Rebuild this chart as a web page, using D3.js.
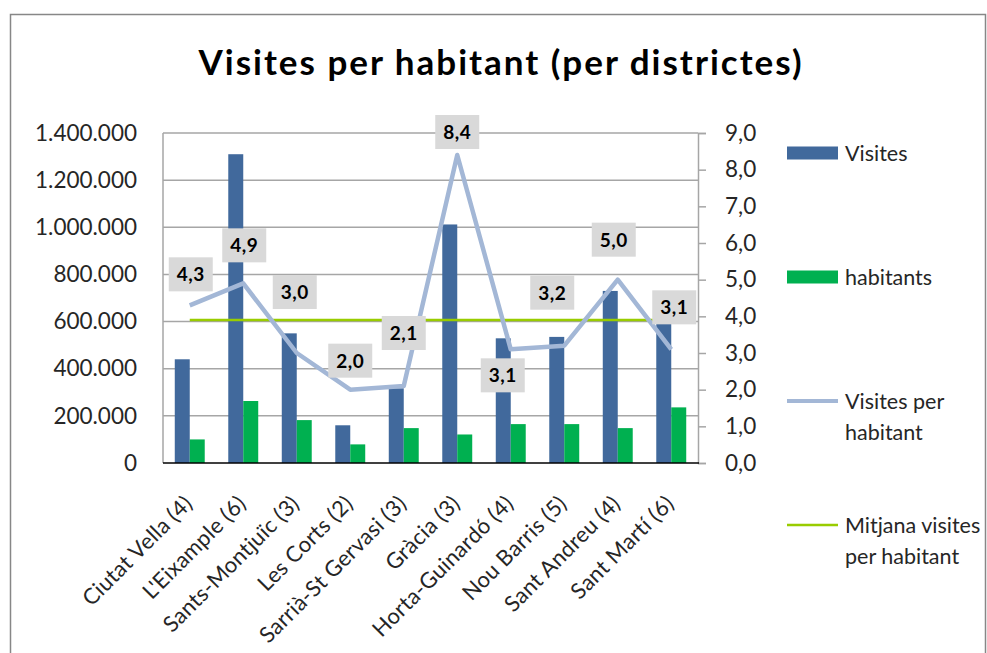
<!DOCTYPE html>
<html>
<head>
<meta charset="utf-8">
<script src="https://cdn.jsdelivr.net/npm/d3@7"></script>
<style>
  body { margin: 0; background: #fff; }
  svg { display: block; font-family: Lato, "Liberation Sans", sans-serif; }
</style>
</head>
<body>
<svg id="chart" width="987" height="653"></svg>
<script>
// dades llegides del gràfic original
const districtes = ["Ciutat Vella (4)", "L'Eixample (6)", "Sants-Montjuïc (3)", "Les Corts (2)",
  "Sarrià-St Gervasi (3)", "Gràcia (3)", "Horta-Guinardó (4)", "Nou Barris (5)", "Sant Andreu (4)", "Sant Martí (6)"];
const visites = [440000, 1310000, 550000, 160000, 317000, 1012000, 529000, 535000, 730000, 590000];
const habitants = [100000, 263000, 182000, 79000, 148000, 121000, 165000, 165000, 148000, 236000];
const visitesPerHabitant = [4.3, 4.9, 3.0, 2.0, 2.1, 8.4, 3.1, 3.2, 5.0, 3.1];
const mitjana = 3.9;
const ticksEsq = [0, 200000, 400000, 600000, 800000, 1000000, 1200000, 1400000];
const ticksDre = [0, 1, 2, 3, 4, 5, 6, 7, 8, 9];

// desplaçament manual de les etiquetes (px, com a l'Excel)
const nudge = [[1, -31], [1, -38], [-2, -61], [0, -29], [0, -53], [0, -23], [-8, 26], [-12, -53], [-4, -40], [3, -42]];

const colors = { visites: '#41699c', habitants: '#00b050', ratio: '#a3b7d6', mitjana: '#99cc00' };

const loc = d3.formatLocale({ decimal: ',', thousands: '.', grouping: [3], currency: ['', '€'] });
const fmtEsq = loc.format(',d');
const fmtDre = loc.format('.1f');

const svg = d3.select('#chart');
const plot = { left: 163, right: 698, top: 133, bottom: 463 };

// vora del gràfic
svg.append('rect').attr('x', 10.5).attr('y', 14.5).attr('width', 975).attr('height', 700)
  .attr('fill', 'none').attr('stroke', '#878787').attr('stroke-width', 1.5);

svg.append('text').attr('x', 501).attr('y', 75).attr('text-anchor', 'middle')
  .attr('font-size', 35).attr('font-weight', 'bold').attr('letter-spacing', 2).attr('fill', '#000')
  .text('Visites per habitant (per districtes)');

const x = d3.scaleBand().domain(districtes).range([plot.left, plot.right]);
const yL = d3.scaleLinear().domain([0, 1400000]).range([plot.bottom, plot.top]);
const yR = d3.scaleLinear().domain([0, 9]).range([plot.bottom, plot.top]);
const cx = (i) => x(districtes[i]) + x.bandwidth() / 2;
const barW = x.bandwidth() * 0.28;

// graella
svg.append('g').selectAll('line').data(ticksEsq.slice(1)).join('line')
  .attr('x1', plot.left).attr('x2', plot.right)
  .attr('y1', (d) => yL(d)).attr('y2', (d) => yL(d))
  .attr('stroke', '#a6a6a6').attr('stroke-width', 1.5);
svg.append('line').attr('x1', plot.left).attr('x2', plot.left).attr('y1', plot.top).attr('y2', plot.bottom)
  .attr('stroke', '#a6a6a6').attr('stroke-width', 1.5);

// eix esquerre
const axL = svg.append('g').attr('transform', `translate(${plot.left - 26},0)`)
  .call(d3.axisLeft(yL).tickValues(ticksEsq).tickFormat(fmtEsq).tickSize(0).tickPadding(0));
axL.select('.domain').remove();
axL.selectAll('text').attr('font-size', 22.5).attr('fill', '#262626').attr('font-family', 'Lato, sans-serif');

// eix dret
const axR = svg.append('g').attr('transform', `translate(${plot.right},0)`)
  .call(d3.axisRight(yR).tickValues(ticksDre).tickFormat(fmtDre).tickSize(8).tickPadding(19));
axR.select('.domain').attr('stroke', '#a6a6a6').attr('stroke-width', 1.5);
axR.selectAll('line').attr('stroke', '#a6a6a6').attr('stroke-width', 1.5);
axR.selectAll('text').attr('font-size', 22.5).attr('fill', '#262626').attr('font-family', 'Lato, sans-serif');

// barres
svg.append('g').selectAll('rect').data(visites).join('rect')
  .attr('x', (d, i) => cx(i) - barW).attr('width', barW)
  .attr('y', (d) => yL(d)).attr('height', (d) => plot.bottom - yL(d))
  .attr('fill', colors.visites);
svg.append('g').selectAll('rect').data(habitants).join('rect')
  .attr('x', (d, i) => cx(i)).attr('width', barW)
  .attr('y', (d) => yL(d)).attr('height', (d) => plot.bottom - yL(d))
  .attr('fill', colors.habitants);

// eix inferior
svg.append('line').attr('x1', plot.left).attr('x2', plot.right + 1).attr('y1', plot.bottom).attr('y2', plot.bottom)
  .attr('stroke', '#000').attr('stroke-width', 1.5);

// mitjana
svg.append('line').attr('x1', cx(0)).attr('x2', cx(districtes.length - 1))
  .attr('y1', yR(mitjana)).attr('y2', yR(mitjana))
  .attr('stroke', colors.mitjana).attr('stroke-width', 2.5);

// línia visites per habitant
const line = d3.line().x((d, i) => cx(i)).y((d) => yR(d));
svg.append('path').datum(visitesPerHabitant).attr('d', line)
  .attr('fill', 'none').attr('stroke', colors.ratio).attr('stroke-width', 4.5)
  .attr('stroke-linejoin', 'round');

// etiquetes de dades
const lab = svg.append('g').selectAll('g').data(visitesPerHabitant).join('g')
  .attr('transform', (d, i) => `translate(${cx(i) + nudge[i][0]},${yR(d) + nudge[i][1]})`);
lab.append('rect').attr('x', -22).attr('y', -17).attr('width', 44).attr('height', 34).attr('fill', '#d9d9d9');
lab.append('text').attr('text-anchor', 'middle').attr('dy', '0.36em')
  .attr('font-size', 19).attr('font-weight', 'bold').attr('letter-spacing', 0.5).attr('fill', '#000')
  .text((d) => fmtDre(d));

// etiquetes categories
svg.append('g').selectAll('text').data(districtes).join('text')
  .attr('transform', (d, i) => `translate(${cx(i) + 4},${plot.bottom + 42}) rotate(-45)`)
  .attr('text-anchor', 'end').attr('font-size', 22).attr('letter-spacing', 0.3).attr('fill', '#262626')
  .text((d) => d);

// llegenda
const leg = svg.append('g').attr('transform', 'translate(787,0)');
const items = [
  { nom: ['Visites'], y: 153, tipus: 'rect', color: colors.visites },
  { nom: ['habitants'], y: 277, tipus: 'rect', color: colors.habitants },
  { nom: ['Visites per', 'habitant'], y: 401, tipus: 'line', color: colors.ratio, w: 4 },
  { nom: ['Mitjana visites', 'per habitant'], y: 525, tipus: 'line', color: colors.mitjana, w: 2.5 },
];
items.forEach((it) => {
  if (it.tipus === 'rect') {
    leg.append('rect').attr('x', 0).attr('y', it.y - 6.5).attr('width', 51).attr('height', 13).attr('fill', it.color);
  } else {
    leg.append('line').attr('x1', 0).attr('x2', 51).attr('y1', it.y).attr('y2', it.y)
      .attr('stroke', it.color).attr('stroke-width', it.w);
  }
  it.nom.forEach((t, k) => {
    leg.append('text').attr('x', 58).attr('y', it.y + k * 31).attr('dy', '0.35em')
      .attr('font-size', 21.5).attr('fill', '#262626').text(t);
  });
});
</script>
</body>
</html>
